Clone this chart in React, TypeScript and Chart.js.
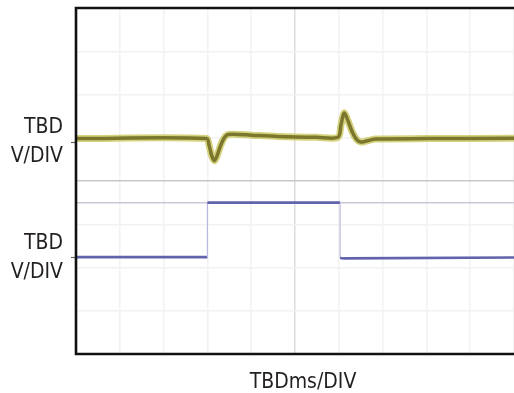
import React, { useEffect, useRef } from "react";
import { Chart, registerables } from "chart.js";

Chart.register(...registerables);

// Divisions (oscilloscope screen: 10 x 8 divisions)
const xMin = 0;
const xMax = 10;
const yMin = 0;
const yMax = 8;

// Channel 1 (yellow) trace, in divisions
const yellowX = [0, 2.98, 3.04, 3.1, 3.16, 3.22, 3.3, 3.38, 3.46, 3.6, 4.0, 4.6, 5.5, 5.98, 6.05, 6.12, 6.2, 6.3, 6.4, 6.5, 6.65, 6.85, 8.0, 10];
const yellowY = [4.98, 4.98, 4.82, 4.58, 4.47, 4.58, 4.82, 4.99, 5.07, 5.08, 5.06, 5.03, 5.01, 5.01, 5.3, 5.57, 5.42, 5.15, 4.97, 4.9, 4.93, 4.97, 4.98, 4.99];

// Channel 2 (blue) trace, in divisions
const blueX = [0, 3.0, 3.0, 6.03, 6.03, 6.12, 10];
const blueY = [2.24, 2.24, 3.5, 3.5, 2.22, 2.21, 2.23];

// Reference marker line
const refX = [0, 10];
const refY = [3.5, 3.5];

// Axis labels
const yTickValues = [4.9, 2.22];
const yTickLabels = [["TBD", "V/DIV"], ["TBD", "V/DIV"]];
const xTitle = "TBDms/DIV";

const FONT = '"Liberation Sans Narrow", "DejaVu Sans Condensed", sans-serif';

const pts = (xs: number[], ys: number[]) => xs.map((x, i) => ({ x, y: ys[i] }));

const framePlugin = {
  id: "frame",
  afterDraw(chart: any) {
    const { ctx, chartArea } = chart;
    const { left, top, right, bottom } = chartArea;
    ctx.save();
    ctx.strokeStyle = "#111";
    ctx.lineWidth = 2.6;
    ctx.beginPath();
    ctx.moveTo(right + 2, top);
    ctx.lineTo(left, top);
    ctx.lineTo(left, bottom);
    ctx.lineTo(right + 2, bottom);
    ctx.stroke();
    ctx.font = `21px ${FONT}`;
    ctx.fillStyle = "#231f20";
    ctx.textAlign = "center";
    ctx.textBaseline = "alphabetic";
    ctx.fillText(xTitle, (left + right) / 2 + 8, 388);
    ctx.restore();
  },
};

export default function App() {
  const ref = useRef<HTMLCanvasElement>(null);
  useEffect(() => {
    const chart = new Chart(ref.current as HTMLCanvasElement, {
      type: "line",
      data: {
        datasets: [
          {
            data: pts(yellowX, yellowY),
            borderColor: "#7b772c",
            borderWidth: 3.5,
            pointRadius: 0,
            tension: 0.3,
            order: 0,
          },
          {
            data: pts(yellowX, yellowY),
            borderColor: "rgba(205,202,105,0.85)",
            borderWidth: 7,
            pointRadius: 0,
            tension: 0.3,
            order: 1,
          },
          {
            data: pts(blueX, blueY),
            borderColor: "#6262ad",
            borderWidth: 2.6,
            pointRadius: 0,
            tension: 0,
            order: 2,
            segment: {
              borderColor: (c: any) => (c.p0.parsed.x === c.p1.parsed.x ? "#b9b9e2" : undefined),
              borderWidth: (c: any) => (c.p0.parsed.x === c.p1.parsed.x ? 1.2 : undefined),
            },
          } as any,
          {
            data: pts(refX, refY),
            borderColor: "#c9c9d6",
            borderWidth: 1.5,
            pointRadius: 0,
            order: 3,
          },
        ],
      },
      options: {
        animation: false,
        responsive: true,
        maintainAspectRatio: false,
        layout: { padding: { top: 8, left: 0, right: 0, bottom: 0 } },
        plugins: { legend: { display: false }, tooltip: { enabled: false } },
        scales: {
          x: {
            type: "linear",
            min: xMin,
            max: xMax,
            ticks: { display: false, stepSize: 1 },
            grid: {
              drawTicks: false,
              color: (c: any) => (c.tick && c.tick.value === 5 ? "#dcdcdc" : "#f2f2f2"),
              lineWidth: 1.5,
            },
            border: { display: false },
            afterFit: (s: any) => {
              s.height = 39;
              s.paddingLeft = 0;
              s.paddingRight = 0;
            },
          },
          y: {
            type: "linear",
            min: yMin,
            max: yMax,
            position: "left",
            afterBuildTicks: (s: any) => {
              s.ticks = yTickValues.map((v) => ({ value: v }));
            },
            afterFit: (s: any) => {
              s.width = 76;
              s.paddingTop = 0;
              s.paddingBottom = 0;
            },
            ticks: {
              autoSkip: false,
              callback: (_v: any, i: number) => yTickLabels[i],
              font: { family: FONT, size: 21, lineHeight: 1.35 },
              color: "#231f20",
              padding: 8,
            },
            grid: {
              drawOnChartArea: false,
              drawTicks: true,
              tickLength: 5,
              tickColor: "#666",
              tickWidth: 1.2,
            },
            border: { display: false },
          },
          yg: {
            type: "linear",
            min: yMin,
            max: yMax,
            position: "left",
            ticks: { display: false, stepSize: 1 },
            grid: {
              drawTicks: false,
              color: (c: any) => (c.tick && c.tick.value === 4 ? "#c8c8c8" : "#f2f2f2"),
              lineWidth: 1.5,
            },
            border: { display: false },
            afterFit: (s: any) => {
              s.width = 0;
              s.paddingTop = 0;
              s.paddingBottom = 0;
            },
          },
        },
      } as any,
      plugins: [framePlugin],
    });
    return () => chart.destroy();
  }, []);
  return (
    <div style={{ position: "absolute", left: 0, top: 0, width: 514, height: 393 }}>
      <canvas ref={ref} />
    </div>
  );
}
